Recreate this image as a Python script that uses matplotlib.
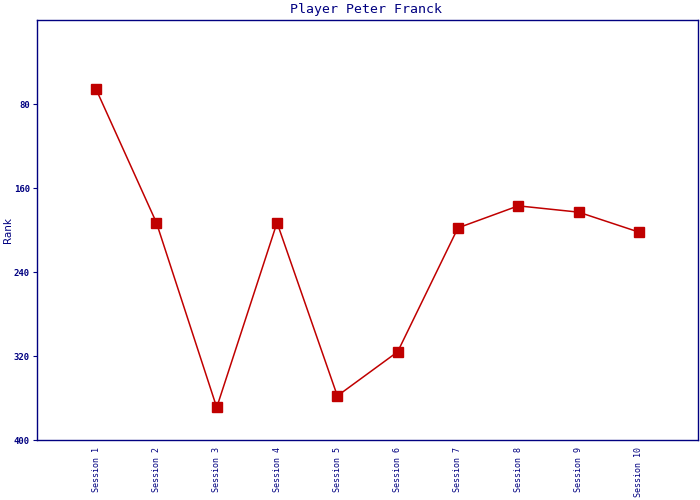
import matplotlib
matplotlib.use("Agg")
import matplotlib.pyplot as plt

sessions = ["Session 1", "Session 2", "Session 3", "Session 4", "Session 5",
            "Session 6", "Session 7", "Session 8", "Session 9", "Session 10"]
ranks = [66, 193, 369, 193, 358, 316, 198, 177, 183, 202]
yticks = [80, 160, 240, 320, 400]

navy = "#000080"
red = "#C00000"

fig = plt.figure(figsize=(7, 5), dpi=100)
ax = fig.add_axes([37/700, 60/500, 661/700, 420/500])
x = list(range(len(sessions)))
ax.plot(x, ranks, color=red, linewidth=1.1, marker="s", markersize=7.5,
        markerfacecolor=red, markeredgecolor=red)
ax.set_xlim(-0.98, len(sessions) - 0.02)
ax.set_ylim(400, 0)
ax.set_yticks(yticks)
ax.set_yticklabels([str(v) for v in yticks], family="DejaVu Sans Mono",
                   fontsize=6.5, color=navy, fontweight="bold")
ax.set_xticks(x)
ax.set_xticklabels(sessions, rotation=90, family="DejaVu Sans Mono",
                   fontsize=6, color=navy, va="top")
ax.tick_params(axis="x", length=0, pad=5)
ax.tick_params(axis="y", length=3, color=navy, pad=2)
for s in ax.spines.values():
    s.set_color(navy)
    s.set_linewidth(1.0)
ax.set_ylabel("Rank", color=navy, fontsize=7.5)
ax.yaxis.set_label_coords(-24/661, 0.5)
fig.text(366/700, 1 - 9/500, "Player Peter Franck", ha="center", va="center",
         color=navy, fontsize=9.5, family="DejaVu Sans Mono")
fig.savefig("out.png", dpi=100, facecolor="white")
